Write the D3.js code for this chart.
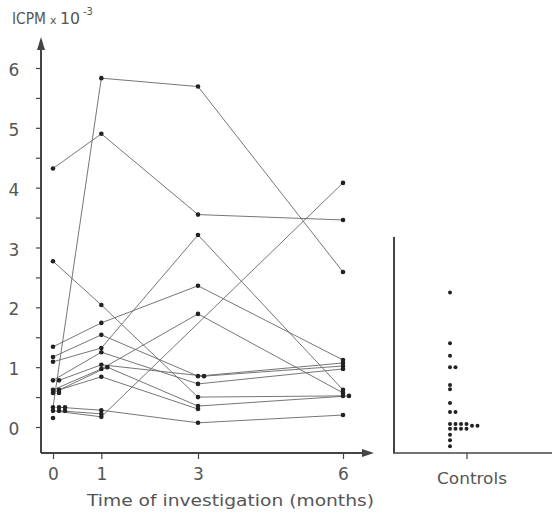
<!DOCTYPE html>
<html>
<head>
<meta charset="utf-8">
<script src="https://cdn.jsdelivr.net/npm/d3@7"></script>
<style>
  body { margin: 0; background: #fff; }
  svg text { font-family: "DejaVu Sans", sans-serif; fill: #555; }
</style>
</head>
<body>
<svg id="grafica" width="558" height="514"></svg>
<script>
// meses de la investigacion
const meses = [0, 1, 3, 6];
const etiquetasMeses = ["0", "1", "3", "6"];
const ticksY = [0, 1, 2, 3, 4, 5, 6];

// un array por paciente: valor en mes 0, 1, 3, 6 (null = sin dato)
const pacientes = [
  [4.32, 4.90, 3.55, 3.46],
  [0.33, 5.83, 5.69, 2.59],
  [2.77, 2.04, 0.50, 0.52],
  [1.34, 1.74, 2.36, 1.12],
  [1.17, 1.54, 0.85, 1.07],
  [1.09, 1.32, 3.21, 0.62],
  [0.78, 1.25, 0.72, 0.97],
  [0.78, 1.04, 0.85, 1.02],
  [0.62, 0.97, 1.89, 0.57],
  [0.57, 1.00, 0.35, 0.52],
  [0.62, 0.84, 0.30, null],
  [0.33, 0.28, 0.07, 0.20],
  [0.27, 0.17, null, 4.08],
  [0.27, 0.22, null, null],
  [0.57, null, null, null],
  [0.33, null, null, null],
  [0.27, null, null, null],
  [0.15, null, null, null]
];

// controles
const controles = [2.25, 1.40, 1.19, 1.00, 1.00, 0.70, 0.63, 0.40, 0.25, 0.25,
  0.05, -0.03, 0.05, -0.03, 0.05, -0.03, 0.05, -0.03, 0.02, 0.02,
  -0.13, -0.22, -0.32];

const svg = d3.select("#grafica");
const colorEje = "#444";

const x = d3.scaleLinear().domain([0, 6]).range([53, 343]);
const y = d3.scaleLinear().domain([0, 6]).range([427, 68]);
const ejeX = 41, baseY = 453;

// separa puntos que se tapan en la misma columna
function separar(valores, paso) {
  let colocados = [];
  return valores.map(v => {
    if (v == null) return null;
    let k = 0;
    while (colocados.some(p => p.k === k && Math.abs(y(p.v) - y(v)) < 2.5)) k++;
    colocados.push({ v: v, k: k });
    return k * paso;
  });
}

let desplaz = meses.map((m, i) => separar(pacientes.map(p => p[i]), 6));

// lineas de cada paciente
const linea = d3.line().x(d => d[0]).y(d => d[1]);
pacientes.forEach((p, j) => {
  let pts = [];
  p.forEach((v, i) => {
    if (v != null) pts.push([x(meses[i]) + desplaz[i][j], y(v)]);
  });
  if (pts.length > 1) {
    svg.append("path")
      .attr("d", linea(pts))
      .attr("fill", "none")
      .attr("stroke", "#666")
      .attr("stroke-width", 0.9);
  }
});

// puntos
pacientes.forEach((p, j) => {
  p.forEach((v, i) => {
    if (v == null) return;
    svg.append("circle")
      .attr("cx", x(meses[i]) + desplaz[i][j])
      .attr("cy", y(v))
      .attr("r", 2.3)
      .attr("fill", "#222");
  });
});

// eje Y
const gY = svg.append("g")
  .attr("transform", `translate(${ejeX},0)`)
  .call(d3.axisLeft(y)
    .tickValues(d3.range(0, 6.01, 0.5))
    .tickSize(5)
    .tickPadding(14)
    .tickFormat(d => Number.isInteger(d) ? d : ""));
gY.select(".domain").remove();
gY.selectAll("line").attr("stroke", colorEje).attr("stroke-width", 1.2);
gY.selectAll("text")
  .attr("font-size", 17)
  .attr("text-anchor", "middle")
  .attr("x", -27)
  .attr("dy", "0.45em")
  .style("font-family", "DejaVu Sans")
  .attr("fill", "#555");

svg.append("line")
  .attr("x1", ejeX).attr("x2", ejeX)
  .attr("y1", baseY).attr("y2", 46)
  .attr("stroke", colorEje).attr("stroke-width", 2);
svg.append("path")
  .attr("d", `M${ejeX},37 L${ejeX - 4},50 L${ejeX + 4},50 Z`)
  .attr("fill", colorEje);

// eje X
const gX = svg.append("g")
  .attr("transform", `translate(0,${baseY})`)
  .call(d3.axisBottom(x)
    .tickValues(meses)
    .tickSize(6)
    .tickPadding(9)
    .tickFormat((d, i) => etiquetasMeses[i]));
gX.select(".domain").remove();
gX.selectAll("line").attr("stroke", colorEje).attr("stroke-width", 1.2);
gX.selectAll("text")
  .attr("font-size", 17)
  .style("font-family", "DejaVu Sans")
  .attr("fill", "#555");

svg.append("line")
  .attr("x1", ejeX).attr("x2", 366)
  .attr("y1", baseY).attr("y2", baseY)
  .attr("stroke", colorEje).attr("stroke-width", 2);
svg.append("path")
  .attr("d", `M374,${baseY} L362,${baseY - 4} L362,${baseY + 4} Z`)
  .attr("fill", colorEje);

// titulo eje Y
svg.append("text").attr("x", 12).attr("y", 24)
  .attr("font-size", 16).attr("textLength", 34).attr("lengthAdjust", "spacingAndGlyphs")
  .text("ICPM");
svg.append("text").attr("x", 50).attr("y", 24)
  .attr("font-size", 11).text("x");
svg.append("text").attr("x", 60).attr("y", 24)
  .attr("font-size", 16).attr("textLength", 20).attr("lengthAdjust", "spacingAndGlyphs")
  .text("10");
svg.append("text").attr("x", 83).attr("y", 15)
  .attr("font-size", 10).text("-3");

// titulo eje X
svg.append("text")
  .attr("x", 87).attr("y", 506)
  .attr("font-size", 15)
  .attr("textLength", 287).attr("lengthAdjust", "spacingAndGlyphs")
  .text("Time of investigation (months)");

// panel de controles
const xc = 450;
svg.append("line")
  .attr("x1", 394).attr("x2", 394).attr("y1", 237).attr("y2", baseY)
  .attr("stroke", colorEje).attr("stroke-width", 2);
svg.append("line")
  .attr("x1", 393).attr("x2", 552).attr("y1", baseY).attr("y2", baseY)
  .attr("stroke", colorEje).attr("stroke-width", 1.6);
svg.append("line")
  .attr("x1", 467).attr("x2", 467).attr("y1", baseY).attr("y2", baseY + 6)
  .attr("stroke", colorEje).attr("stroke-width", 1.2);

const despControles = separar(controles, 5.5);
svg.selectAll("circle.control")
  .data(controles)
  .join("circle")
  .attr("class", "control")
  .attr("cx", (d, i) => xc + despControles[i])
  .attr("cy", d => y(d))
  .attr("r", 2)
  .attr("fill", "#222");

svg.append("text")
  .attr("x", 437).attr("y", 484)
  .attr("font-size", 15)
  .attr("textLength", 70).attr("lengthAdjust", "spacingAndGlyphs")
  .text("Controls");
</script>
</body>
</html>
